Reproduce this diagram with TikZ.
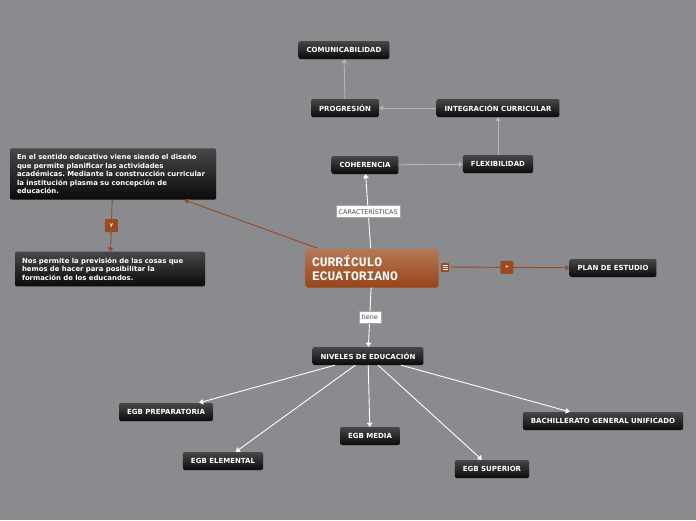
\documentclass[tikz,border=0pt]{standalone}
\usepackage{fontspec}
\setmainfont{DejaVu Sans}
\newfontfamily\monofont{Liberation Mono}
\usepackage{xcolor}
\usetikzlibrary{arrows.meta, shadows}
\frenchspacing

\definecolor{canvas}{HTML}{8A8B8F}
\definecolor{rust}{HTML}{9A4A1E}
\definecolor{rusttop}{HTML}{B57A58}
\definecolor{rustbot}{HTML}{984318}
\definecolor{lightline}{HTML}{B4B5B8}

\begin{document}
\begin{tikzpicture}[
    x=1pt, y=-1pt,
    topic/.style={rectangle, rounded corners=2pt, top color=black!72, bottom color=black!96, draw=none,
        text=white, font=\fontsize{7}{8}\selectfont\bfseries, inner xsep=8pt, minimum height=18pt,
        drop shadow={opacity=0.35, shadow xshift=0.8pt, shadow yshift=-0.8pt}},
    note/.style={topic, align=left, inner xsep=7pt, inner ysep=6pt, font=\fontsize{6.9}{8.5}\selectfont\bfseries},
    central/.style={rectangle, rounded corners=2.5pt, top color=rusttop, bottom color=rustbot, draw=none,
        text=white, align=left, font=\fontsize{13}{14}\selectfont\monofont\bfseries,
        text width=120pt, minimum width=133pt, minimum height=39pt},
    lbl/.style={rectangle, fill=white, draw=black!35, line width=0.3pt, text=black!70,
        font=\fontsize{6.4}{7}\selectfont, inner xsep=3pt, inner ysep=2pt, minimum height=12pt},
    badge/.style={rectangle, rounded corners=1pt, fill=rust, text=white,
        font=\fontsize{5}{5}\selectfont\bfseries, minimum size=13pt, inner sep=0pt},
    whitearrow/.style={white, line width=0.9pt, -{Triangle[length=4pt,width=5.5pt]}},
    grayarrow/.style={lightline, line width=0.9pt, -{Triangle[length=4pt,width=5.5pt]}},
    rustarrow/.style={rust, line width=0.9pt, -{Triangle[length=4pt,width=5.5pt]}}
]

% Canvas
\fill[canvas] (0,0) rectangle (696,520);
\useasboundingbox (0,0) rectangle (696,520);

% Central topic
\node[central] (cur) at (372,268) {CURRÍCULO\\ECUATORIANO};
\node[rectangle, fill=rust, minimum width=8pt, minimum height=9pt, inner sep=0pt] (menu) at (445,267) {};
\foreach \yy in {-2.2,0,2.2}
    \draw[white, line width=0.6pt] ([xshift=-2.5pt,yshift=\yy pt]menu.center) -- ([xshift=2.5pt,yshift=\yy pt]menu.center);

% Characteristics
\node[topic] (coh) at (365,165) {COHERENCIA};
\node[topic] (flex) at (498,164) {FLEXIBILIDAD};
\node[topic] (integ) at (498,108) {INTEGRACIÓN CURRICULAR};
\node[topic] (prog) at (345,108) {PROGRESIÓN};
\node[topic] (comun) at (344,50) {COMUNICABILIDAD};

% Definitions
\node[note, text width=192pt] (def) at (113,174) {En el sentido educativo viene siendo el diseño\\que permite planificar las actividades\\académicas. Mediante la construcción curricular\\la institución plasma su concepción de\\educación.};
\node[note, text width=176pt] (prev) at (110,269) {Nos permite la previsión de las cosas que\\hemos de hacer para posibilitar la\\formación de los educandos.};

% Plan
\node[topic] (plan) at (613,268) {PLAN DE ESTUDIO};

% Levels
\node[topic] (niv) at (368,356) {NIVELES DE EDUCACIÓN};
\node[topic] (prep) at (166,412) {EGB PREPARATORIA};
\node[topic] (elem) at (223,461) {EGB ELEMENTAL};
\node[topic] (media) at (370,436) {EGB MEDIA};
\node[topic] (sup) at (492,469) {EGB SUPERIOR};
\node[topic] (bach) at (603,421) {BACHILLERATO GENERAL UNIFICADO};

% Arrows
\draw[whitearrow] (cur) -- node[lbl] {CARACTERÍSTICAS} (coh);
\draw[grayarrow] (coh) -- (flex);
\draw[grayarrow] (flex) -- (integ);
\draw[grayarrow] (integ) -- (prog);
\draw[grayarrow] (prog) -- (comun);

\draw[rustarrow] (cur) -- (def);
\draw[rustarrow] (def) -- node[badge] {Y} (prev);
\draw[rustarrow] (menu) -- node[badge, pos=0.48] {+} (plan);

\draw[whitearrow] (cur) -- node[lbl, pos=0.5] {tiene} (niv);
\foreach \lvl in {prep, elem, media, sup, bach}
    \draw[whitearrow] (niv) -- (\lvl);

\end{tikzpicture}
\end{document}
